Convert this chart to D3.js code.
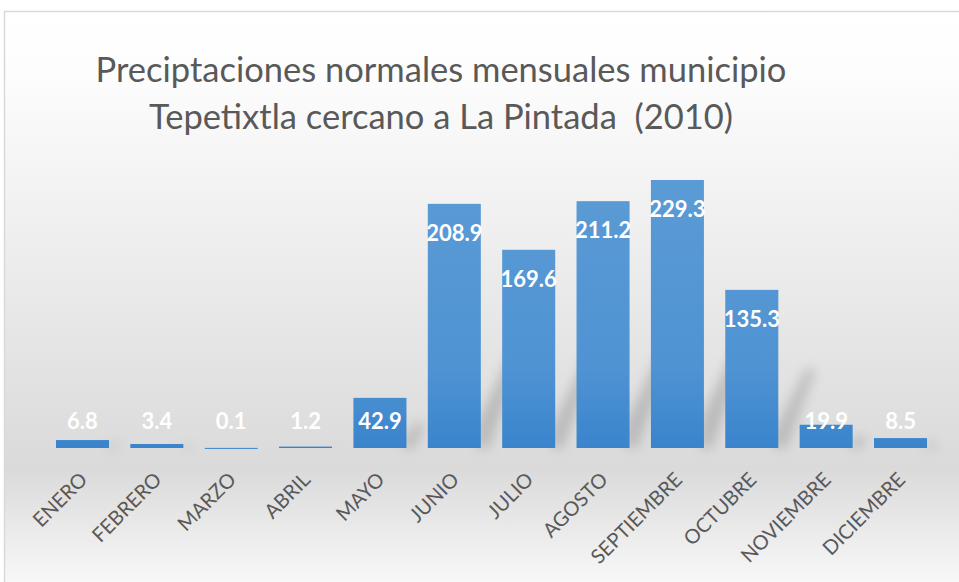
<!DOCTYPE html>
<html>
<head>
<meta charset="utf-8">
<script src="https://cdn.jsdelivr.net/npm/d3@7"></script>
<style>
  body { margin: 0; background: #fff; }
  svg { display: block; }
</style>
</head>
<body>
<svg></svg>
<script>
const months = ["ENERO", "FEBRERO", "MARZO", "ABRIL", "MAYO", "JUNIO", "JULIO",
  "AGOSTO", "SEPTIEMBRE", "OCTUBRE", "NOVIEMBRE", "DICIEMBRE"];
const rain = [6.8, 3.4, 0.1, 1.2, 42.9, 208.9, 169.6, 211.2, 229.3, 135.3, 19.9, 8.5];
const titleLines = ["Preciptaciones normales mensuales municipio",
  "Tepetixtla cercano a La Pintada  (2010)"];

let width = 959;
let height = 582;
let baseline = 448;

let svg = d3.select("svg").attr("width", width).attr("height", height);
let defs = svg.append("defs");

const drawBackground = () => {
  let bg = defs.append("linearGradient").attr("id", "bg")
    .attr("x1", 0).attr("y1", 0).attr("x2", 0).attr("y2", 1);
  bg.append("stop").attr("offset", "0%").attr("stop-color", "#ffffff");
  bg.append("stop").attr("offset", "10%").attr("stop-color", "#fdfdfd");
  bg.append("stop").attr("offset", "76%").attr("stop-color", "#dadada");
  bg.append("stop").attr("offset", "100%").attr("stop-color", "#ffffff");

  svg.append("rect")
    .attr("x", 4.5).attr("y", 11.5)
    .attr("width", 980).attr("height", 600)
    .attr("fill", "url(#bg)")
    .attr("stroke", "#d9d9d9")
    .attr("stroke-width", 1.5);
};

const addTitle = () => {
  svg.append("g").selectAll("text")
    .data(titleLines)
    .enter()
    .append("text")
    .attr("x", 441)
    .attr("y", (d, i) => 82 + i * 47)
    .attr("text-anchor", "middle")
    .attr("font-family", "Lato, 'Open Sans', sans-serif")
    .attr("font-size", 34.5)
    .attr("fill", "#595959")
    .style("white-space", "pre")
    .text((d) => d);
};

let xScale = d3.scaleBand()
  .domain(months)
  .range([45.3, 937.7])
  .paddingInner(0.287)
  .paddingOuter(0.1435);

let yScale = d3.scaleLinear()
  .domain([0, 229.3])
  .range([baseline, 180]);

const drawBars = () => {
  let grad = defs.append("linearGradient").attr("id", "barFill")
    .attr("gradientUnits", "userSpaceOnUse")
    .attr("x1", 0).attr("y1", 180).attr("x2", 0).attr("y2", baseline);
  grad.append("stop").attr("offset", "0%").attr("stop-color", "#5b9bd5");
  grad.append("stop").attr("offset", "70%").attr("stop-color", "#4f93d3");
  grad.append("stop").attr("offset", "100%").attr("stop-color", "#3a84cc");

  let shadow = defs.append("filter").attr("id", "shadow")
    .attr("x", "-50%").attr("y", "-50%").attr("width", "200%").attr("height", "200%");
  shadow.append("feGaussianBlur").attr("stdDeviation", 6);

  // soft shadow cast behind the bars
  svg.append("g")
    .attr("filter", "url(#shadow)")
    .attr("opacity", 0.3)
    .selectAll("path")
    .data(rain)
    .enter()
    .append("path")
    .attr("fill", "#6b6b6b")
    .attr("d", (d, i) => {
      let x0 = xScale(months[i]) + xScale.bandwidth();
      let h = (baseline - yScale(d)) * 0.5;
      return `M${x0 - 4},${baseline} L${x0 - 4},${baseline - h * 0.2} L${x0 + h * 0.35},${baseline - h} L${x0 + h * 0.35 + 10},${baseline - h} L${x0 + 8},${baseline} Z`;
    });

  svg.append("g")
    .selectAll("rect")
    .data(rain)
    .enter()
    .append("rect")
    .attr("x", (d, i) => xScale(months[i]))
    .attr("y", (d) => yScale(d))
    .attr("width", xScale.bandwidth())
    .attr("height", (d) => Math.max(1, baseline - yScale(d)))
    .attr("fill", "url(#barFill)");
};

const addLabels = () => {
  svg.append("g")
    .selectAll("text")
    .data(rain)
    .enter()
    .append("text")
    .attr("x", (d, i) => xScale(months[i]) + xScale.bandwidth() / 2)
    .attr("y", (d) => Math.min(yScale(d) + 37, baseline - 19))
    .attr("text-anchor", "middle")
    .attr("font-family", "Lato, 'Open Sans', sans-serif")
    .attr("font-weight", "bold")
    .attr("font-size", 22)
    .attr("fill", "#ffffff")
    .text((d) => d.toFixed(1));
};

const generateAxes = () => {
  let xAxis = d3.axisBottom(xScale).tickSize(0).tickPadding(0);
  let g = svg.append("g")
    .attr("transform", `translate(0, ${baseline})`)
    .call(xAxis);
  g.select(".domain").remove();
  g.selectAll("text")
    .attr("font-family", "Lato, 'Open Sans', sans-serif")
    .attr("font-size", 20)
    .attr("fill", "#595959")
    .attr("text-anchor", "end")
    .attr("dy", 0)
    .attr("transform", "translate(6, 33) rotate(-45)");
};

drawBackground();
addTitle();
drawBars();
addLabels();
generateAxes();
</script>
</body>
</html>
